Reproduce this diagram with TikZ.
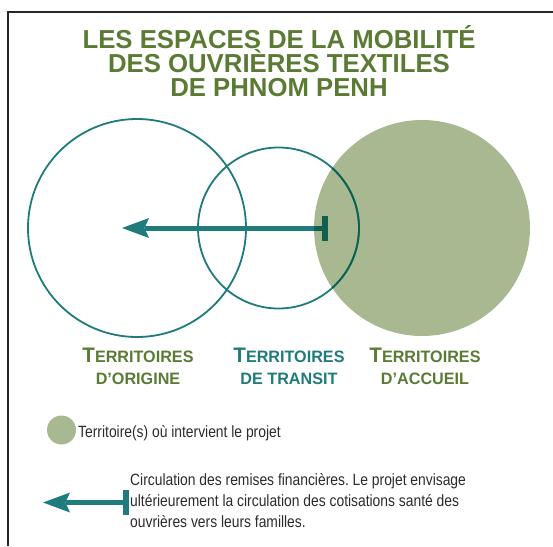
\documentclass[tikz,border=0pt]{standalone}
\usepackage{fontspec}
\setmainfont{Liberation Sans}
\newfontfamily\wideb[FakeStretch=0.99]{Liberation Sans}
\newfontfamily\labelf[FakeStretch=0.98]{Liberation Sans}
\newfontfamily\narrowf[FakeStretch=0.85]{Liberation Sans}
\usetikzlibrary{arrows.meta}
\definecolor{teal1}{HTML}{1F7B7C}
\definecolor{olive1}{HTML}{5B7B35}
\definecolor{sage}{HTML}{A8B890}
\definecolor{deep}{HTML}{0E6150}
\definecolor{ink}{HTML}{2B2B2B}
\definecolor{framec}{HTML}{262626}
\newcommand\bigT{{\fontsize{21}{21}\selectfont T}}
\frenchspacing
\begin{document}
\begin{tikzpicture}[x=1pt,y=-1pt,
  ring/.style={draw=teal1,line width=1.8pt},
  flowline/.style={line width=5pt,-{Stealth[length=27pt,width=20pt,inset=4.5pt,line width=0pt]}},
  barline/.style={line width=6pt},
  titletext/.style={text=olive1,font=\wideb\bfseries\fontsize{26}{26}\selectfont,anchor=base,inner sep=0pt},
  labeltext/.style={font=\labelf\bfseries\fontsize{16.5}{16.5}\selectfont,anchor=base,inner sep=0pt},
  legendtext/.style={text=ink,font=\narrowf\fontsize{16.3}{16.3}\selectfont,anchor=base west,inner sep=0pt}
]
\useasboundingbox (0,0) rectangle (553,546);
% frame
\draw[framec,line width=1.3pt] (553,12) -- (8,12) -- (8,546);
% title
\node[titletext] (t1) at (279,48) {LES ESPACES DE LA MOBILITÉ};
\node[titletext] (t2) at (279,72) {DES OUVRIÈRES TEXTILES};
\node[titletext] (t3) at (279,96) {DE PHNOM PENH};
% circles
\fill[sage] (422,228) circle[radius=108];
\draw[ring] (137,228) circle[radius=109];
\draw[ring] (278.5,228) circle[radius=80.5];
% arrow
\coordinate (src) at (324.7,228);
\coordinate (dst) at (122,228);
\coordinate (barT) at (324.7,215.7);
\coordinate (barB) at (324.7,240.7);
\draw[teal1,flowline] (src) -- (dst);
\draw[teal1,barline] (barT) -- (barB);
% overlap darkening
\begin{scope}
\clip (422,228) circle[radius=108];
\draw[ring,draw=deep] (278.5,228) circle[radius=80.5];
\draw[deep,line width=5pt] (src) -- (300,228);
\draw[deep,barline] (barT) -- (barB);
\end{scope}
% labels
\node[labeltext,text=olive1] (l1a) at (138,362) {\bigT ERRITOIRES};
\node[labeltext,text=olive1] (l1b) at (138,384) {D’ORIGINE};
\node[labeltext,text=teal1] (l2a) at (289,362) {\bigT ERRITOIRES};
\node[labeltext,text=teal1] (l2b) at (289,384) {DE TRANSIT};
\node[labeltext,text=olive1] (l3a) at (425,362) {\bigT ERRITOIRES};
\node[labeltext,text=olive1] (l3b) at (425,384) {D’ACCUEIL};
% legend 1
\fill[sage] (61.5,430) circle[radius=14.5];
\node[legendtext] (lg1) at (78,437) {Territoire(s) où intervient le projet};
% legend 2
\coordinate (lsrc) at (125.7,502.5);
\coordinate (ldst) at (43,502.5);
\coordinate (lbarT) at (125.7,490);
\coordinate (lbarB) at (125.7,515);
\draw[teal1,flowline] (lsrc) -- (ldst);
\draw[teal1,barline] (lbarT) -- (lbarB);
\node[legendtext] (lg2a) at (130,485) {Circulation des remises financières. Le projet envisage};
\node[legendtext] (lg2b) at (130,506.3) {ultérieurement la circulation des cotisations santé des};
\node[legendtext] (lg2c) at (130,527.6) {ouvrières vers leurs familles.};
\end{tikzpicture}
\end{document}
